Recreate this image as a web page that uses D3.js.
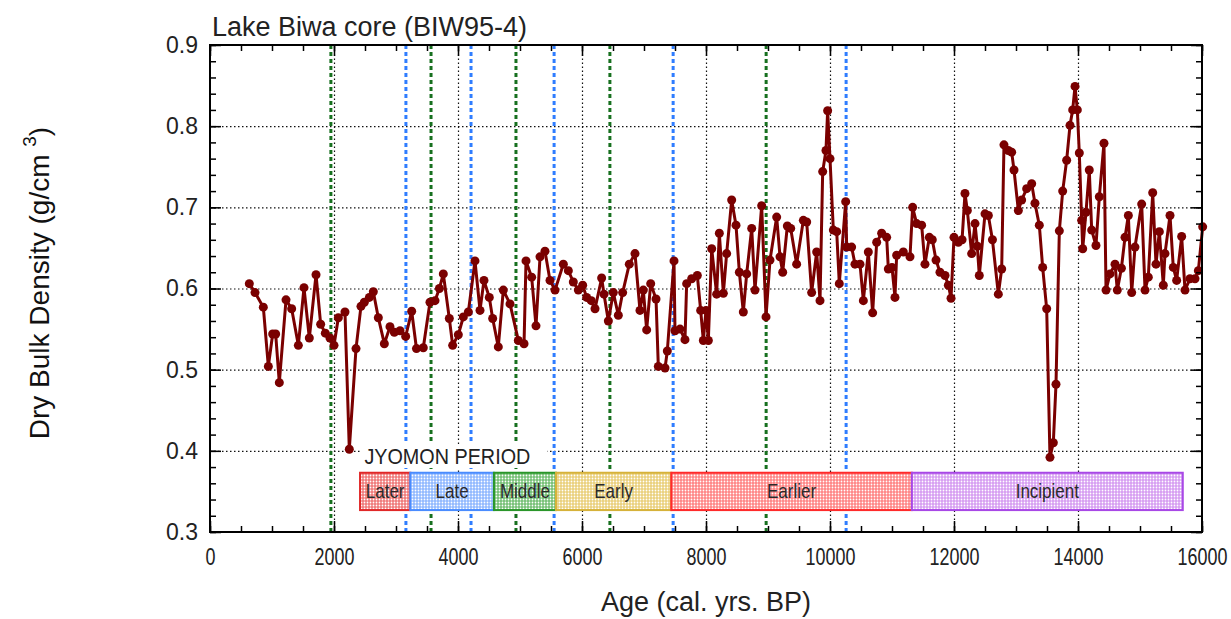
<!DOCTYPE html>
<html>
<head>
<meta charset="utf-8">
<script src="https://cdn.jsdelivr.net/npm/d3@7"></script>
<style>
  body { margin: 0; background: #fff; }
  svg { font-family: "Liberation Sans", Arial, sans-serif; }
</style>
</head>
<body>
<div id="container"></div>
<script>
/* DATA */
const ages = [634, 726, 860, 941, 1011, 1059, 1118, 1226, 1317, 1425, 1516, 1602, 1710, 1785, 1860, 1935, 2000, 2070, 2177, 2247,
  2355, 2435, 2489, 2570, 2634, 2715, 2812, 2903, 2973, 3065, 3156, 3253, 3330, 3440, 3548, 3629, 3700, 3763, 3860, 3914,
  4005, 4086, 4167, 4274, 4355, 4419, 4505, 4559, 4650, 4731, 4839, 4973, 5065, 5097, 5188, 5258, 5323, 5403, 5484, 5565,
  5699, 5780, 5860, 5941, 6011, 6075, 6150, 6210, 6317, 6355, 6425, 6505, 6586, 6656, 6763, 6855, 6935, 6989, 7043, 7108,
  7194, 7231, 7339, 7376, 7484, 7500, 7581, 7661, 7688, 7769, 7860, 7914, 7957, 8000, 8038, 8092, 8172, 8215, 8280, 8333,
  8414, 8484, 8538, 8602, 8656, 8737, 8790, 8898, 8968, 9032, 9140, 9194, 9237, 9312, 9366, 9462, 9570, 9624, 9704, 9785,
  9839, 9882, 9935, 9962, 10000, 10054, 10108, 10150, 10253, 10269, 10349, 10403, 10484, 10538, 10618, 10688, 10753, 10833, 10914, 10941,
  11000, 11048, 11075, 11183, 11290, 11333, 11398, 11478, 11532, 11602, 11650, 11710, 11774, 11855, 11909, 11952, 12000, 12070, 12130, 12177,
  12215, 12285, 12339, 12376, 12408, 12500, 12554, 12620, 12715, 12769, 12806, 12876, 12930, 12968, 13038, 13091, 13172, 13253, 13306, 13376,
  13430, 13495, 13548, 13602, 13645, 13699, 13753, 13817, 13871, 13914, 13952, 13989, 14021, 14059, 14076, 14129, 14182, 14221, 14290, 14344,
  14419, 14452, 14516, 14597, 14634, 14700, 14758, 14812, 14866, 14919, 15027, 15081, 15134, 15205, 15258, 15312, 15376, 15403, 15484, 15537,
  15591, 15672, 15726, 15806, 15887, 15941, 16011];

const density = [0.606, 0.595, 0.577, 0.504, 0.544, 0.544, 0.484, 0.586, 0.575, 0.530, 0.601, 0.539, 0.617, 0.556, 0.545, 0.539, 0.530, 0.564, 0.571, 0.402,
  0.526, 0.578, 0.583, 0.589, 0.596, 0.564, 0.532, 0.553, 0.546, 0.548, 0.541, 0.572, 0.526, 0.527, 0.583, 0.585, 0.600, 0.618, 0.563, 0.530,
  0.543, 0.565, 0.571, 0.634, 0.573, 0.610, 0.589, 0.563, 0.528, 0.598, 0.581, 0.536, 0.532, 0.634, 0.614, 0.554, 0.639, 0.646, 0.610, 0.598,
  0.630, 0.622, 0.608, 0.598, 0.604, 0.589, 0.585, 0.575, 0.613, 0.593, 0.560, 0.595, 0.567, 0.595, 0.630, 0.643, 0.573, 0.598, 0.549, 0.606,
  0.587, 0.504, 0.502, 0.523, 0.634, 0.548, 0.550, 0.537, 0.606, 0.612, 0.616, 0.573, 0.536, 0.573, 0.536, 0.649, 0.593, 0.668, 0.594, 0.643,
  0.709, 0.678, 0.620, 0.571, 0.618, 0.674, 0.598, 0.702, 0.565, 0.635, 0.688, 0.639, 0.620, 0.677, 0.674, 0.630, 0.684, 0.682, 0.595, 0.645,
  0.585, 0.744, 0.770, 0.819, 0.760, 0.672, 0.670, 0.606, 0.707, 0.651, 0.651, 0.630, 0.630, 0.585, 0.645, 0.570, 0.657, 0.668, 0.663, 0.624,
  0.626, 0.589, 0.641, 0.645, 0.639, 0.700, 0.680, 0.678, 0.630, 0.663, 0.660, 0.635, 0.620, 0.616, 0.604, 0.588, 0.663, 0.657, 0.660, 0.717,
  0.696, 0.643, 0.680, 0.652, 0.616, 0.692, 0.690, 0.660, 0.593, 0.624, 0.777, 0.770, 0.768, 0.746, 0.696, 0.709, 0.723, 0.729, 0.705, 0.678,
  0.626, 0.575, 0.392, 0.410, 0.482, 0.671, 0.720, 0.758, 0.801, 0.820, 0.849, 0.820, 0.767, 0.684, 0.649, 0.694, 0.746, 0.672, 0.653, 0.713,
  0.779, 0.598, 0.618, 0.630, 0.598, 0.625, 0.663, 0.690, 0.595, 0.651, 0.704, 0.598, 0.614, 0.718, 0.630, 0.670, 0.604, 0.643, 0.690, 0.626,
  0.610, 0.664, 0.598, 0.612, 0.612, 0.622, 0.676];

// dashed boundary lines (ages)
const greenLines = [1950, 3565, 4935, 6450, 8970];
const blueLines = [3160, 4210, 5550, 7470, 10260];

// Jyomon period bands
const periodNames = ["Later", "Late", "Middle", "Early", "Earlier", "Incipient"];
const periodStart = [2420, 3230, 4580, 5580, 7440, 11320];
const periodEnd = [3230, 4580, 5580, 7440, 11320, 15690];
const periodStroke = ["#e02828", "#4a8cff", "#2a962a", "#d6b23a", "#ff2a2a", "#a848e6"];
const periodFill = ["#f07878", "#8fb8ff", "#74c074", "#ead07a", "#ff8484", "#d69cf2"];
const bandLow = 0.327, bandHigh = 0.373;

const xTicks = [0, 2000, 4000, 6000, 8000, 10000, 12000, 14000, 16000];
const yTicks = [0.3, 0.4, 0.5, 0.6, 0.7, 0.8, 0.9];

/* CONSTANTS */
const width = 1231, height = 619;
const plotLeft = 210, plotRight = 1202, plotTop = 45, plotBottom = 532;
const lineColor = "#7a0000";

const svg = d3.select("#container").append("svg")
  .attr("width", width).attr("height", height);

const xScale = d3.scaleLinear().domain([0, 16000]).range([plotLeft, plotRight]);
const yScale = d3.scaleLinear().domain([0.3, 0.9]).range([plotBottom, plotTop]);

/* PATTERNS */
const defs = svg.append("defs");
periodFill.forEach((c, i) => {
  const p = defs.append("pattern")
    .attr("id", "pat" + i)
    .attr("patternUnits", "userSpaceOnUse")
    .attr("width", 3).attr("height", 3);
  p.append("rect").attr("width", 3).attr("height", 3).attr("fill", c);
  p.append("circle").attr("cx", 1.5).attr("cy", 1.5).attr("r", 0.9).attr("fill", "#fff");
});

/* GRID */
svg.append("g")
  .attr("transform", `translate(0, ${plotBottom})`)
  .call(d3.axisBottom(xScale).tickValues(xTicks.slice(1, -1)).tickSize(-(plotBottom - plotTop)).tickFormat(""))
  .call(g => g.select(".domain").remove())
  .selectAll("line").attr("stroke", "#111").attr("stroke-width", 1.2).attr("stroke-dasharray", "1.5,2.5");

svg.append("g")
  .attr("transform", `translate(${plotLeft}, 0)`)
  .call(d3.axisLeft(yScale).tickValues(yTicks.slice(1, -1)).tickSize(-(plotRight - plotLeft)).tickFormat(""))
  .call(g => g.select(".domain").remove())
  .selectAll("line").attr("stroke", "#111").attr("stroke-width", 1.2).attr("stroke-dasharray", "1.5,2.5");

/* DASHED BOUNDARIES */
svg.selectAll(".gline")
  .data(greenLines)
  .join("line")
  .attr("class", "gline")
  .attr("x1", d => xScale(d)).attr("x2", d => xScale(d))
  .attr("y1", plotTop).attr("y2", plotBottom)
  .attr("stroke", "#17701f").attr("stroke-width", 3).attr("stroke-dasharray", "4,3");

svg.selectAll(".bline")
  .data(blueLines)
  .join("line")
  .attr("class", "bline")
  .attr("x1", d => xScale(d)).attr("x2", d => xScale(d))
  .attr("y1", plotTop).attr("y2", plotBottom)
  .attr("stroke", "#2f7dff").attr("stroke-width", 3).attr("stroke-dasharray", "4,3");

/* BANDS */
const bands = periodNames.map((n, i) => ({ name: n, start: periodStart[i], end: periodEnd[i], i: i }));

svg.selectAll(".band")
  .data(bands)
  .join("rect")
  .attr("class", "band")
  .attr("x", d => xScale(d.start))
  .attr("y", yScale(bandHigh))
  .attr("width", d => xScale(d.end) - xScale(d.start))
  .attr("height", yScale(bandLow) - yScale(bandHigh))
  .attr("fill", d => `url(#pat${d.i})`)
  .attr("stroke", d => periodStroke[d.i])
  .attr("stroke-width", 2);

svg.selectAll(".bandlabel")
  .data(bands)
  .join("text")
  .attr("class", "bandlabel")
  .attr("transform", d => `translate(${(xScale(d.start) + xScale(d.end)) / 2}, ${(yScale(bandHigh) + yScale(bandLow)) / 2 + 7}) scale(0.85,1)`)
  .attr("text-anchor", "middle")
  .attr("font-size", 20)
  .attr("fill", "#2a2a2a")
  .text(d => d.name);

// JYOMON PERIOD label with white backing
svg.append("rect")
  .attr("x", xScale(2440)).attr("y", 444)
  .attr("width", 186).attr("height", 24)
  .attr("fill", "#fff");
svg.append("text")
  .attr("transform", `translate(${xScale(2490)}, 464) scale(0.9,1)`)
  .attr("font-size", 22)
  .attr("fill", "#222")
  .text("JYOMON PERIOD");

/* DATA LINE */
const points = ages.map((a, i) => ({ age: a, val: density[i] }));

svg.append("path")
  .datum(points)
  .attr("fill", "none")
  .attr("stroke", lineColor)
  .attr("stroke-width", 3)
  .attr("stroke-linejoin", "round")
  .attr("d", d3.line().x(d => xScale(d.age)).y(d => yScale(d.val)));

svg.selectAll(".dot")
  .data(points)
  .join("circle")
  .attr("class", "dot")
  .attr("cx", d => xScale(d.age))
  .attr("cy", d => yScale(d.val))
  .attr("r", 4.5)
  .attr("fill", lineColor);

/* AXES (ticks inward, mirrored) */
const minorX = d3.range(0, 16001, 500);
const minorY = d3.range(0.3, 0.9001, 0.02);

function styleAxis(g) {
  g.select(".domain").remove();
  g.selectAll("line").attr("stroke", "#000").attr("stroke-width", 1.5);
}

// bottom
svg.append("g")
  .attr("transform", `translate(0, ${plotBottom})`)
  .call(d3.axisBottom(xScale).tickValues(minorX).tickSize(-6).tickFormat(""))
  .call(styleAxis);
const xAxisG = svg.append("g")
  .attr("transform", `translate(0, ${plotBottom})`)
  .call(d3.axisBottom(xScale).tickValues(xTicks).tickSize(-11).tickPadding(17).tickFormat(d3.format("d")))
  .call(styleAxis);
xAxisG.selectAll("text")
  .attr("font-size", 23)
  .attr("fill", "#222")
  .attr("transform", "scale(0.78,1)");

// top
svg.append("g")
  .attr("transform", `translate(0, ${plotTop})`)
  .call(d3.axisTop(xScale).tickValues(minorX).tickSize(-6).tickFormat(""))
  .call(styleAxis);
svg.append("g")
  .attr("transform", `translate(0, ${plotTop})`)
  .call(d3.axisTop(xScale).tickValues(xTicks).tickSize(-11).tickFormat(""))
  .call(styleAxis);

// left
svg.append("g")
  .attr("transform", `translate(${plotLeft}, 0)`)
  .call(d3.axisLeft(yScale).tickValues(minorY).tickSize(-6).tickFormat(""))
  .call(styleAxis);
const yAxisG = svg.append("g")
  .attr("transform", `translate(${plotLeft}, 0)`)
  .call(d3.axisLeft(yScale).tickValues(yTicks).tickSize(-11).tickPadding(12).tickFormat(d3.format(".1f")))
  .call(styleAxis);
yAxisG.selectAll("text")
  .attr("font-size", 23)
  .attr("fill", "#222");

// right
svg.append("g")
  .attr("transform", `translate(${plotRight}, 0)`)
  .call(d3.axisRight(yScale).tickValues(minorY).tickSize(-6).tickFormat(""))
  .call(styleAxis);
svg.append("g")
  .attr("transform", `translate(${plotRight}, 0)`)
  .call(d3.axisRight(yScale).tickValues(yTicks).tickSize(-11).tickFormat(""))
  .call(styleAxis);

// frame
svg.append("rect")
  .attr("x", plotLeft).attr("y", plotTop)
  .attr("width", plotRight - plotLeft).attr("height", plotBottom - plotTop)
  .attr("fill", "none")
  .attr("stroke", "#000")
  .attr("stroke-width", 2);

/* TITLES */
svg.append("text")
  .attr("x", 212).attr("y", 36)
  .attr("font-size", 27)
  .attr("fill", "#222")
  .text("Lake Biwa core (BIW95-4)");

svg.append("text")
  .attr("x", (plotLeft + plotRight) / 2).attr("y", 611)
  .attr("text-anchor", "middle")
  .attr("font-size", 27)
  .attr("fill", "#222")
  .text("Age (cal. yrs. BP)");

const yl = svg.append("text")
  .attr("transform", "translate(49, 283) rotate(-90)")
  .attr("text-anchor", "middle")
  .attr("font-size", 28)
  .attr("fill", "#111");
yl.append("tspan").text("Dry Bulk Density (g/cm ");
yl.append("tspan").attr("font-size", 19).attr("dy", -13).text("3");
yl.append("tspan").attr("dy", 13).text(")");
</script>
</body>
</html>
